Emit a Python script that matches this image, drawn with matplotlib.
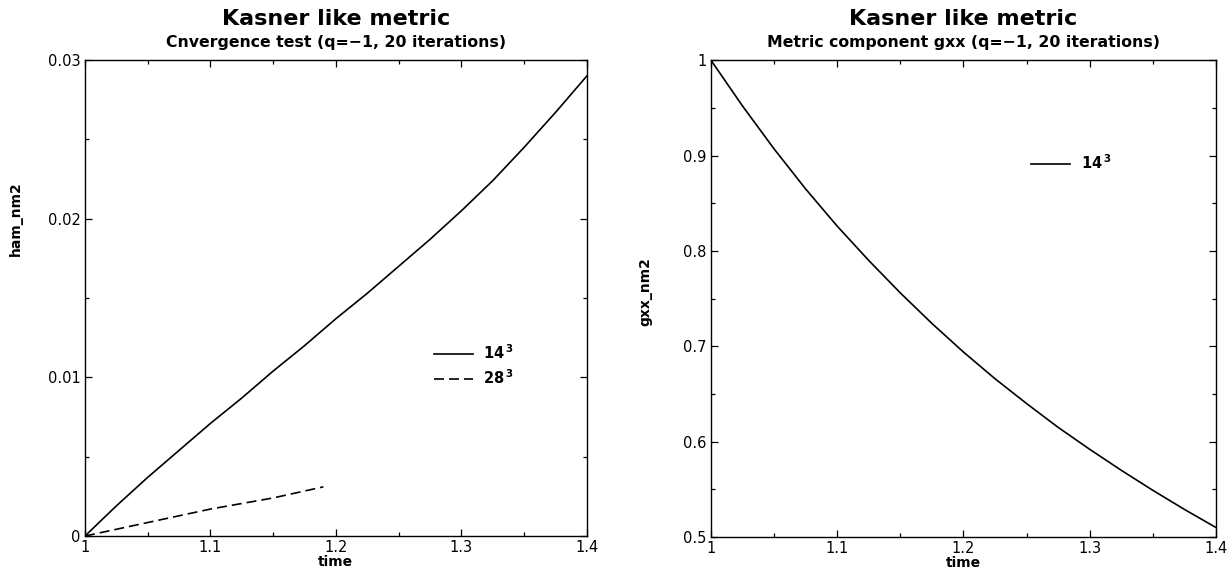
import numpy as np
import matplotlib
matplotlib.use("Agg")
import matplotlib.pyplot as plt
from matplotlib.ticker import MultipleLocator

plt.rcParams['font.family'] = ['DejaVu Sans']
plt.rcParams['mathtext.fontset'] = 'custom'
plt.rcParams['mathtext.bf'] = 'DejaVu Sans:bold'
plt.rcParams['mathtext.rm'] = 'DejaVu Sans'

# left panel: hamiltonian constraint norm
t_14 = [1.0, 1.025, 1.05, 1.075, 1.1, 1.125, 1.15, 1.175, 1.2, 1.225,
        1.25, 1.275, 1.3, 1.325, 1.35, 1.375, 1.4]
ham_14 = [0.0, 0.0019, 0.0037, 0.0054, 0.0071, 0.0087, 0.0104, 0.0120, 0.0137,
          0.0153, 0.0170, 0.0187, 0.0205, 0.0224, 0.0245, 0.0267, 0.0290]
t_28 = [1.0, 1.05, 1.1, 1.15, 1.19]
ham_28 = [0.0, 0.00085, 0.0017, 0.0024, 0.0031]

# right panel: metric component gxx
gxx_14 = [1.000, 0.952, 0.907, 0.865, 0.826, 0.790, 0.756, 0.724, 0.694,
          0.666, 0.640, 0.615, 0.592, 0.570, 0.549, 0.529, 0.510]

lab14 = r'$\mathbf{14}^{\,\mathbf{3}}$'
lab28 = r'$\mathbf{28}^{\,\mathbf{3}}$'

fig = plt.figure(figsize=(12.3, 5.72), dpi=100)
ax1 = fig.add_axes([0.0691, 0.0629, 0.408, 0.832])
ax2 = fig.add_axes([0.578, 0.0612, 0.4105, 0.8336])


def style(ax, ymaj, ymin):
    ax.xaxis.set_major_locator(MultipleLocator(0.1))
    ax.xaxis.set_minor_locator(MultipleLocator(0.05))
    ax.yaxis.set_major_locator(MultipleLocator(ymaj))
    ax.yaxis.set_minor_locator(MultipleLocator(ymin))
    ax.tick_params(which='both', direction='in', top=True, right=True,
                   labelsize=10.5, width=0.9)
    ax.tick_params(which='major', length=5, pad=3)
    ax.tick_params(which='minor', length=3)
    for s in ax.spines.values():
        s.set_linewidth(1.0)
    ax.set_xlim(1.0, 1.4)
    ax.xaxis.set_major_formatter(plt.FuncFormatter(lambda v, p: ('%g' % round(v, 3))))
    ax.yaxis.set_major_formatter(plt.FuncFormatter(lambda v, p: ('%g' % round(v, 4))))


ax1.plot(t_14, ham_14, color='black', lw=1.2, label=lab14)
ax1.plot(t_28, ham_28, color='black', lw=1.2, dashes=(6, 3), label=lab28)
style(ax1, 0.01, 0.005)
ax1.set_ylim(0, 0.03)
ax1.set_xlabel('time', fontsize=10, fontweight='bold', labelpad=0)
ax1.set_ylabel('ham_nm2', fontsize=10, fontweight='bold')
ax1.yaxis.set_label_coords(-0.124, 0.666)
ax1.text(0.5, 1.086, 'Kasner like metric', transform=ax1.transAxes,
         ha='center', va='center', fontsize=16, fontweight='bold')
ax1.text(0.5, 1.037, 'Cnvergence test (q=\u22121, 20 iterations)', transform=ax1.transAxes,
         ha='center', va='center', fontsize=11.3, fontweight='bold')
ax1.legend(loc='upper left', bbox_to_anchor=(0.695, 0.405), frameon=False,
           handlelength=2.7, handletextpad=0.7, labelspacing=0.45,
           borderpad=0, borderaxespad=0, fontsize=10.5)

ax2.plot(t_14, gxx_14, color='black', lw=1.2, label=lab14)
style(ax2, 0.1, 0.05)
ax2.set_ylim(0.5, 1.0)
ax2.set_xlabel('time', fontsize=10, fontweight='bold', labelpad=0)
ax2.set_ylabel('gxx_nm2', fontsize=10, fontweight='bold')
ax2.yaxis.set_label_coords(-0.115, 0.515)
ax2.text(0.5, 1.086, 'Kasner like metric', transform=ax2.transAxes,
         ha='center', va='center', fontsize=16, fontweight='bold')
ax2.text(0.5, 1.037, 'Metric component gxx (q=\u22121, 20 iterations)', transform=ax2.transAxes,
         ha='center', va='center', fontsize=11.3, fontweight='bold')
ax2.legend(loc='upper left', bbox_to_anchor=(0.634, 0.805), frameon=False,
           handlelength=2.7, handletextpad=0.7, borderpad=0, borderaxespad=0,
           fontsize=10.5)

fig.savefig('out.png', dpi=100)
